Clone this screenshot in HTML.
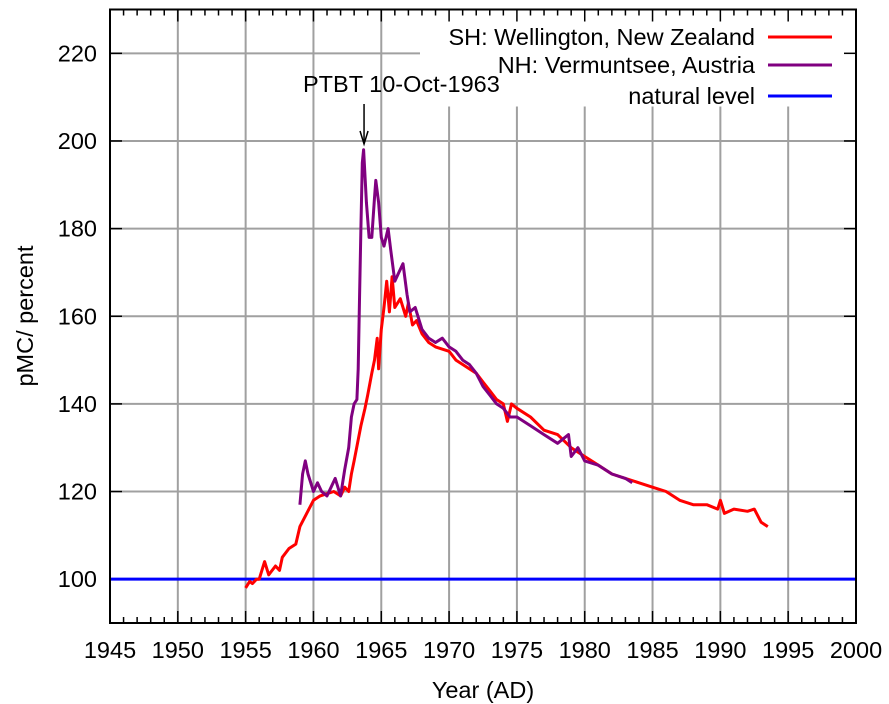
<!DOCTYPE html>
<html><head><meta charset="utf-8"><style>
html,body{margin:0;padding:0;background:#fff}
svg{display:block;font-family:"Liberation Sans",sans-serif}
</style></head><body>
<svg id="chart" width="889" height="704" viewBox="0 0 889 704" xmlns="http://www.w3.org/2000/svg"></svg>
<script>
const xTicks=[1945,1950,1955,1960,1965,1970,1975,1980,1985,1990,1995,2000];
const yTicks=[100,120,140,160,180,200,220];
const shYears=[1955.0,1955.3,1955.5,1955.8,1956,1956.4,1956.7,1957.2,1957.5,1957.7,1958.2,1958.7,1959,1959.5,1960,1960.5,1961,1961.5,1962,1962.3,1962.6,1962.8,1963,1963.5,1963.8,1964,1964.3,1964.5,1964.7,1964.8,1965,1965.2,1965.4,1965.6,1965.8,1966,1966.4,1966.8,1967,1967.3,1967.6,1968,1968.5,1969,1970,1970.5,1971,1972,1972.5,1973,1973.5,1974,1974.3,1974.6,1975,1976,1977,1978,1979,1980,1981,1982,1983,1984,1985,1986,1987,1988,1989,1989.8,1990,1990.3,1991,1992,1992.5,1993,1993.5];
const shValues=[98,99.5,99,100,100,104,101,103,102,105,107,108,112,115,118,119,119.5,120,119,121,120,124,127,135,139,142,147,150,155,148,157,162,168,161,169,162,164,160,163,158,159,156,154,153,152,150,149,147,145,143,141,140,136,140,139,137,134,133,130,128,126,124,123,122,121,120,118,117,117,116,118,115,116,115.5,116,113,112];
const nhYears=[1959.0,1959.2,1959.4,1959.6,1960,1960.3,1960.6,1961,1961.3,1961.6,1961.8,1962,1962.3,1962.6,1962.8,1963,1963.2,1963.3,1963.4,1963.5,1963.6,1963.7,1963.9,1964.1,1964.3,1964.5,1964.6,1964.8,1965,1965.2,1965.5,1965.7,1966,1966.3,1966.6,1966.9,1967.1,1967.5,1968,1968.5,1969,1969.5,1970,1970.5,1971,1971.5,1972,1972.5,1973,1973.5,1974,1974.5,1975,1976,1977,1978,1978.8,1979,1979.5,1980,1981,1982,1983,1983.5];
const nhValues=[117,124,127,124,120,122,120,119,121,123,121,119,125,130,137,140,141,148,165,180,195,198,186,178,178,187,191,186,178,176,180,175,168,170,172,165,161,162,157,155,154,155,153,152,150,149,147,144,142,140,139,137,137,135,133,131,133,128,130,127,126,124,123,122];
const naturalLevel=[100];
const L=110,R=856,T=9.5,B=623;
const xMin=1945,xMax=2000,yMin=90,yMax=230;
const FS=23.5;
const sx=v=>L+(v-xMin)/(xMax-xMin)*(R-L);
const sy=v=>B-(v-yMin)/(yMax-yMin)*(B-T);
const svg=document.getElementById('chart');
const NS='http://www.w3.org/2000/svg';
function mk(tag,attrs,parent){const e=document.createElementNS(NS,tag);for(const k in attrs)e.setAttribute(k,attrs[k]);(parent||svg).appendChild(e);return e;}
xTicks.forEach(t=>{const x=sx(t);
 if(t>xMin&&t<xMax){const g=mk('line',{x1:x,x2:x,y1:T,y2:B,stroke:'#a0a0a0','stroke-width':2});
 
 }
});
yTicks.forEach(t=>{const y=sy(t);const g=mk('line',{x1:L,x2:R,y1:y,y2:y,stroke:'#a0a0a0','stroke-width':2});
 
 });
const lb=mk('rect',{x:420,y:T+1,width:R-421,height:96,fill:'#fff'});


for(let yr=xMin;yr<=xMax;yr++){const x=sx(yr);const len=(yr%5===0)?12:6;
 mk('line',{x1:x,x2:x,y1:B,y2:B-len,stroke:'#000','stroke-width':1.5});
 mk('line',{x1:x,x2:x,y1:T,y2:T+len,stroke:'#000','stroke-width':1.5});}
yTicks.forEach(t=>{const y=sy(t);mk('line',{x1:L,x2:L+12,y1:y,y2:y,stroke:'#000','stroke-width':1.5});mk('line',{x1:R,x2:R-12,y1:y,y2:y,stroke:'#000','stroke-width':1.5});
 const tx=mk('text',{x:L-13,y:y+8,'text-anchor':'end','font-size':FS,fill:'#000'});tx.textContent=t;
 
 });
xTicks.forEach(t=>{const tx=mk('text',{x:sx(t),y:B+35,'text-anchor':'middle','font-size':FS,fill:'#000'});tx.textContent=t;
 
 });
naturalLevel.forEach(v=>{const n=mk('line',{x1:L,x2:R,y1:sy(v),y2:sy(v),stroke:'#0000ff','stroke-width':3});
 
 });
function series(xs,ys,color,name){const d=xs.map((x,i)=>(i?'L':'M')+sx(x).toFixed(1)+','+sy(ys[i]).toFixed(1)).join('');
 const p=mk('path',{d:d,fill:'none',stroke:color,'stroke-width':3,'stroke-linejoin':'round'});
 
 }
series(shYears,shValues,'#ff0000','sh-wellington-line');
series(nhYears,nhValues,'#800080','nh-vermuntsee-line');
const fr=mk('rect',{x:L,y:T,width:R-L,height:B-T,fill:'none',stroke:'#000','stroke-width':2});


const leg=[['SH: Wellington, New Zealand','#ff0000',37],['NH: Vermuntsee, Austria','#800080',65],['natural level','#0000ff',96]];
leg.forEach(l=>{const t=mk('text',{x:755,y:l[2]+8,'text-anchor':'end','font-size':FS,fill:'#000'});t.textContent=l[0];
 
 
 const ln=mk('line',{x1:768,x2:832,y1:l[2],y2:l[2],stroke:l[1],'stroke-width':3});
 
 });
const ax=sx(1963.73);
const an=mk('text',{x:303,y:92,'font-size':FS,fill:'#000'});an.textContent='PTBT 10-Oct-1963';


const ar=mk('line',{x1:ax,x2:ax,y1:104,y2:143,stroke:'#000','stroke-width':1.5});


mk('path',{d:`M${ax-4},${131}L${ax},${144}L${ax+4},${131}`,fill:'none',stroke:'#000','stroke-width':1.5});
const xt=mk('text',{x:483,y:698,'text-anchor':'middle','font-size':FS,fill:'#000'});xt.textContent='Year (AD)';


const yt=mk('text',{x:0,y:0,'text-anchor':'middle','font-size':FS,fill:'#000',transform:'translate(33,316) rotate(-90)'});yt.textContent='pMC/ percent';


</script>
</body></html>
